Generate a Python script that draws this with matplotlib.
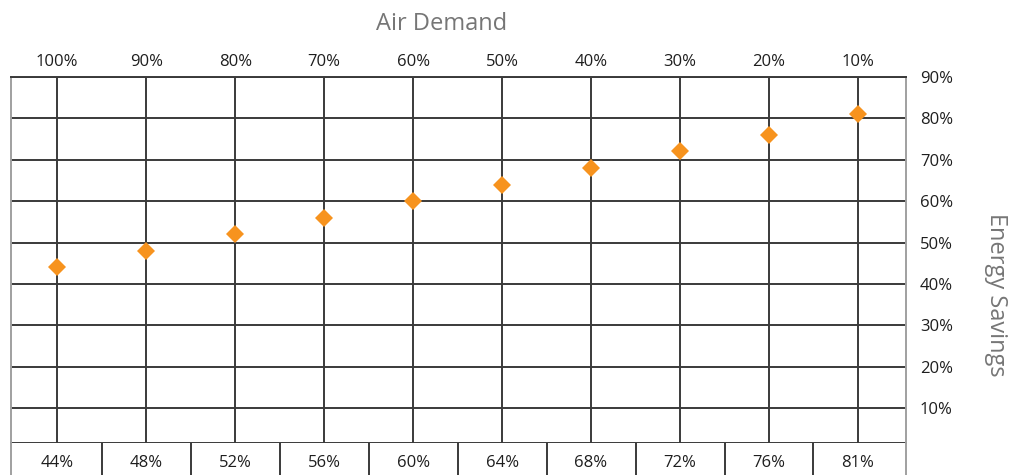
import matplotlib
matplotlib.use("Agg")
import matplotlib.pyplot as plt

plt.rcParams['font.family'] = ['Open Sans', 'DejaVu Sans']

# air demand along the top, energy savings for each step
air_demand = ["100%", "90%", "80%", "70%", "60%", "50%", "40%", "30%", "20%", "10%"]
energy_savings = [44, 48, 52, 56, 60, 64, 68, 72, 76, 81]
savings_ticks = [10, 20, 30, 40, 50, 60, 70, 80, 90]

grid_col = "#3a3a3a"
edge_col = "#a0a0a0"
label_col = "#1e1e1e"
title_col = "#767676"
marker_col = "#f7931e"

W, H = 1012, 475
fig = plt.figure(figsize=(W / 100, H / 100), dpi=100)

# main plot area
left, right, top, bottom = 11, 906, 77, 443
ax = fig.add_axes([left / W, 1 - bottom / H, (right - left) / W, (bottom - top) / H])
x = list(range(len(air_demand)))
ax.set_xlim(-0.52, len(x) - 1 + 0.54)
ax.set_ylim(1.55, 90)

for xi in x:
    ax.axvline(xi, color=grid_col, lw=1.4, zorder=1)
for yt in savings_ticks:
    ax.axhline(yt, color=grid_col, lw=1.4, zorder=1)

ax.plot(x, energy_savings, linestyle="none", marker="D", markersize=9.5,
        color=marker_col, markeredgewidth=0, zorder=3)

for side in ["left", "right"]:
    ax.spines[side].set_color(edge_col)
    ax.spines[side].set_linewidth(1.4)
for side in ["top", "bottom"]:
    ax.spines[side].set_color(grid_col)
    ax.spines[side].set_linewidth(1.4)

ax.xaxis.tick_top()
ax.set_xticks(x)
ax.set_xticklabels(air_demand)
ax.yaxis.tick_right()
ax.set_yticks(savings_ticks)
ax.set_yticklabels([f"{v}%" for v in savings_ticks])
ax.tick_params(axis="both", length=0, labelsize=12, labelcolor=label_col)
ax.tick_params(axis="x", pad=5)
ax.tick_params(axis="y", pad=10)

# row of savings values under the plot
tab = fig.add_axes([left / W, 1 - 503 / H, (right - left) / W, 60 / H])
tab.set_xlim(ax.get_xlim())
tab.set_ylim(0, 1)
tab.set_xticks([])
tab.set_yticks([])
for side in ["top", "bottom"]:
    tab.spines[side].set_visible(False)
for side in ["left", "right"]:
    tab.spines[side].set_color(edge_col)
    tab.spines[side].set_linewidth(1.4)
for xi in x[:-1]:
    tab.axvline(xi + 0.5, color=grid_col, lw=1.4)
for xi, v in zip(x, energy_savings):
    tab.text(xi, 0.67, f"{v}%", ha="center", va="center", fontsize=12, color=label_col)

fig.text(442 / W, 1 - 24 / H, "Air Demand", ha="center", va="center",
         fontsize=17, color=title_col)
fig.text(996 / W, 1 - 295 / H, "Energy Savings", ha="center", va="center",
         rotation=270, fontsize=17, color=title_col)

fig.savefig("out.png", dpi=100)
